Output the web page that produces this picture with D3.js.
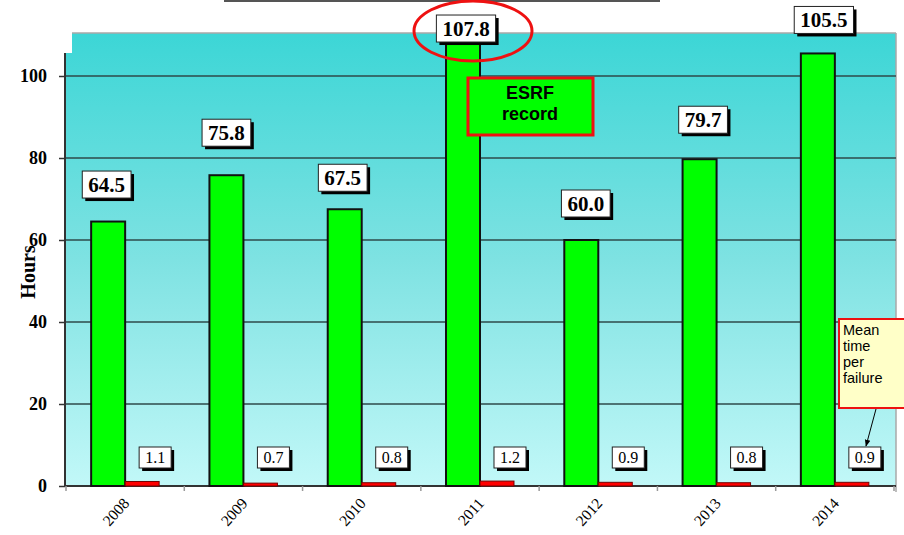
<!DOCTYPE html>
<html>
<head>
<meta charset="utf-8">
<script src="https://cdn.jsdelivr.net/npm/d3@7"></script>
<style>
  html, body { margin: 0; padding: 0; background: #ffffff; }
  svg { display: block; }
</style>
</head>
<body>
<svg id="chart" width="904" height="535"></svg>
<script>
// ---- data ----
const years = ['2008', '2009', '2010', '2011', '2012', '2013', '2014'];
const mtbf = [64.5, 75.8, 67.5, 107.8, 60.0, 79.7, 105.5];   // mean time between failures (hours)
const mttf = [1.1, 0.7, 0.8, 1.2, 0.9, 0.8, 0.9];            // mean time per failure (hours)
const yTicks = [0, 20, 40, 60, 80, 100];
const seriesKeys = ['mtbf', 'mttf'];

// ---- layout of value labels (hand placed in the reference) ----
const labelDx = [-1.5, 0, -2, 3, 4.5, 3.5, 6];
const labelGap = [23.5, 29, 18, 2, 23, 26, 20];

const svg = d3.select('#chart');
const left = 65, right = 896, bottom = 486, bgTop = 33;

const x0 = d3.scaleBand().domain(years).range([66, 894]).paddingInner(0).paddingOuter(0);
const x1 = d3.scaleBand().domain(seriesKeys).range([0, x0.bandwidth()]).paddingInner(0).paddingOuter(0.74);
const y = d3.scaleLinear().domain([0, 110]).range([bottom, 35]);

// gradient
const defs = svg.append('defs');
const grad = defs.append('linearGradient').attr('id', 'bg').attr('x1', 0).attr('y1', 0).attr('x2', 0).attr('y2', 1);
grad.append('stop').attr('offset', '0%').attr('stop-color', 'rgb(60,214,214)');
grad.append('stop').attr('offset', '50%').attr('stop-color', 'rgb(126,226,226)');
grad.append('stop').attr('offset', '100%').attr('stop-color', 'rgb(194,248,248)');
const mk = defs.append('marker').attr('id', 'arrow').attr('viewBox', '0 0 10 10')
  .attr('refX', 9).attr('refY', 5).attr('markerWidth', 7).attr('markerHeight', 7).attr('orient', 'auto');
mk.append('path').attr('d', 'M0,1 L10,5 L0,9 z').attr('fill', '#000');

// top line remnant
svg.append('line').attr('x1', 224).attr('x2', 660).attr('y1', 1).attr('y2', 1)
  .attr('stroke', '#555').attr('stroke-width', 2);

// background plot area
svg.append('path')
  .attr('d', `M72,${bgTop} L${right},${bgTop} L${right},${bottom} L${left},${bottom} L${left},53 L72,53 Z`)
  .attr('fill', 'url(#bg)');
svg.append('line').attr('x1', 72).attr('x2', right).attr('y1', bgTop).attr('y2', bgTop)
  .attr('stroke', '#a8a8a8').attr('stroke-width', 1.5);
svg.append('line').attr('x1', right).attr('x2', right).attr('y1', bgTop).attr('y2', 492)
  .attr('stroke', '#a8a8a8').attr('stroke-width', 1.5);

// gridlines
svg.append('g').selectAll('line').data(yTicks.filter(d => d > 0)).join('line')
  .attr('x1', left).attr('x2', right)
  .attr('y1', d => y(d)).attr('y2', d => y(d))
  .attr('stroke', '#2e4a4a').attr('stroke-width', 1.5);

// y axis
const yAxis = svg.append('g').attr('transform', `translate(${left},0)`)
  .call(d3.axisLeft(y).tickValues(yTicks).tickSize(6).tickPadding(12).tickSizeOuter(0));
yAxis.select('.domain').remove();
yAxis.selectAll('.tick line').attr('stroke', '#333').attr('stroke-width', 1.5);
yAxis.selectAll('.tick text')
  .attr('font-family', '"Liberation Serif", "Times New Roman", serif')
  .attr('font-weight', 'bold').attr('font-size', 18).attr('fill', '#000');
svg.append('line').attr('x1', left).attr('x2', left).attr('y1', 53).attr('y2', bottom)
  .attr('stroke', '#333').attr('stroke-width', 2);

// y title
svg.append('text').attr('transform', 'translate(35,272) rotate(-90)')
  .attr('text-anchor', 'middle')
  .attr('font-family', '"Liberation Serif", "Times New Roman", serif')
  .attr('font-weight', 'bold').attr('font-size', 20).attr('fill', '#000')
  .text('Hours');

// x axis line
svg.append('line').attr('x1', left).attr('x2', right).attr('y1', bottom).attr('y2', bottom)
  .attr('stroke', '#333').attr('stroke-width', 2);
// boundary ticks
const bounds = years.map(d => x0(d)).concat([x0(years[years.length - 1]) + x0.bandwidth()]);
svg.append('g').selectAll('line').data(bounds).join('line')
  .attr('x1', d => d).attr('x2', d => d).attr('y1', bottom).attr('y2', bottom + 5)
  .attr('stroke', '#999').attr('stroke-width', 1.5);
// x labels
const xAxis = svg.append('g').attr('transform', `translate(0,${bottom})`)
  .call(d3.axisBottom(x0).tickSize(0).tickSizeOuter(0));
xAxis.select('.domain').remove();
xAxis.selectAll('.tick text')
  .attr('font-family', '"Liberation Serif", "Times New Roman", serif')
  .attr('font-size', 15.5).attr('fill', '#000')
  .attr('text-anchor', 'end')
  .attr('dy', null).attr('y', 0)
  .attr('transform', 'translate(5,18) rotate(-48)');

// bars
const rows = years.map((yr, i) => ({ yr, mtbf: mtbf[i], mttf: mttf[i], i }));
const g = svg.append('g');
g.selectAll('rect.mtbf').data(rows).join('rect').attr('class', 'mtbf')
  .attr('x', d => x0(d.yr) + x1('mtbf')).attr('width', x1.bandwidth())
  .attr('y', d => y(d.mtbf)).attr('height', d => y(0) - y(d.mtbf))
  .attr('fill', '#00ff00').attr('stroke', '#111').attr('stroke-width', 2);
g.selectAll('rect.mttf').data(rows).join('rect').attr('class', 'mttf')
  .attr('x', d => x0(d.yr) + x1('mttf')).attr('width', x1.bandwidth())
  .attr('y', d => y(d.mttf)).attr('height', d => y(0) - y(d.mttf))
  .attr('fill', '#ff0000').attr('stroke', '#700').attr('stroke-width', 1);

// label helper
function boxLabel(parent, cx, bottomY, text, opts) {
  const grp = parent.append('g');
  const t = grp.append('text').attr('x', cx).attr('y', 0)
    .attr('text-anchor', 'middle')
    .attr('font-family', '"Liberation Serif", "Times New Roman", serif')
    .attr('font-weight', opts.bold ? 'bold' : 'normal')
    .attr('font-size', opts.size).attr('fill', '#000').text(text);
  const tw = t.node().getComputedTextLength();
  const bw = tw + opts.padX * 2, bh = opts.h;
  const bx = cx - bw / 2, by = bottomY - bh;
  grp.insert('rect', 'text').attr('x', bx + 3).attr('y', by + 3).attr('width', bw).attr('height', bh).attr('fill', '#000');
  grp.insert('rect', 'text').attr('x', bx).attr('y', by).attr('width', bw).attr('height', bh)
    .attr('fill', '#fff').attr('stroke', '#222').attr('stroke-width', 1);
  t.attr('y', by + bh / 2 + opts.size * 0.34);
}

const labels = svg.append('g');
rows.forEach(d => {
  const cx = x0(d.yr) + x1('mtbf') + x1.bandwidth() / 2 + labelDx[d.i];
  boxLabel(labels, cx, y(d.mtbf) - labelGap[d.i], d3.format('.1f')(d.mtbf), { bold: true, size: 21, padX: 6, h: 27 });
});
rows.forEach(d => {
  const cx = x0(d.yr) + x1('mttf') + x1.bandwidth() / 2 + 13;
  boxLabel(labels, cx, 468, d3.format('.1f')(d.mttf), { bold: false, size: 16, padX: 6, h: 21 });
});

// ESRF record annotation
svg.append('rect').attr('x', 468).attr('y', 78).attr('width', 125).attr('height', 57)
  .attr('fill', '#00ff00').attr('stroke', '#ee1111').attr('stroke-width', 3);
svg.append('text').attr('x', 530).attr('y', 99).attr('text-anchor', 'middle')
  .attr('font-family', '"Liberation Sans", Arial, sans-serif').attr('font-weight', 'bold')
  .attr('font-size', 18).attr('fill', '#000').text('ESRF');
svg.append('text').attr('x', 530).attr('y', 120).attr('text-anchor', 'middle')
  .attr('font-family', '"Liberation Sans", Arial, sans-serif').attr('font-weight', 'bold')
  .attr('font-size', 18).attr('fill', '#000').text('record');

// Record ellipse
svg.append('ellipse').attr('cx', 473).attr('cy', 31).attr('rx', 59).attr('ry', 30)
  .attr('fill', 'none').attr('stroke', '#ee1111').attr('stroke-width', 3);

// Mean time per failure callout
svg.append('rect').attr('x', 839).attr('y', 319).attr('width', 75).attr('height', 89)
  .attr('fill', '#ffffc8').attr('stroke', '#ee1111').attr('stroke-width', 2);
const callout = ['Mean', 'time', 'per', 'failure'];
svg.append('g').selectAll('text').data(callout).join('text')
  .attr('x', 843).attr('y', (d, i) => 335 + i * 16)
  .attr('font-family', '"Liberation Sans", Arial, sans-serif')
  .attr('font-size', 14.5).attr('fill', '#000').text(d => d);
svg.append('line').attr('x1', 876).attr('y1', 409).attr('x2', 866).attr('y2', 446)
  .attr('stroke', '#000').attr('stroke-width', 1).attr('marker-end', 'url(#arrow)');
</script>
</body>
</html>
